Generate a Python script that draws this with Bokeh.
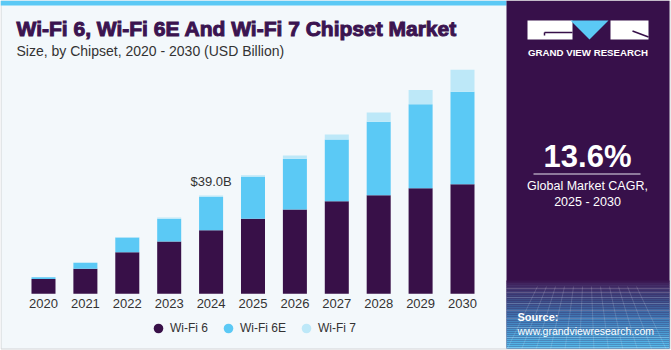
import numpy as np
from bokeh.plotting import figure
from bokeh.models import Range1d, ColumnDataSource, Legend, LegendItem
from bokeh.core.properties import value
from bokeh.embed import file_html
from bokeh.resources import INLINE

# ---------------- data ----------------
years = [2020, 2021, 2022, 2023, 2024, 2025, 2026, 2027, 2028, 2029, 2030]
year_labels = [str(y) for y in years]
wifi6 = [5.9, 9.9, 16.5, 20.7, 25.2, 29.8, 33.4, 36.7, 39.1, 41.9, 43.5]
wifi6e = [0.7, 2.4, 5.8, 9.1, 13.2, 16.5, 20.2, 24.5, 29.2, 33.3, 36.7]
wifi7 = [0.0, 0.1, 0.2, 0.5, 0.6, 0.7, 1.3, 2.0, 3.6, 5.7, 8.7]
series = ["Wi-Fi 6", "Wi-Fi 6E", "Wi-Fi 7"]
colors = ["#381048", "#5bc9f5", "#bde8f8"]
annot_year = [2024]
annot_value = [39.0]
annot_text = ["$39.0B"]

title = "Wi-Fi 6, Wi-Fi 6E And Wi-Fi 7 Chipset Market"
subtitle = "Size, by Chipset, 2020 - 2030 (USD Billion)"
cagr = "13.6%"
cagr_lines = ["Global Market CAGR,", "2025 - 2030"]

FONT = "Liberation Sans"
W, H = 671, 350

p = figure(width=W, height=H, output_backend="svg", toolbar_location=None,
           x_range=Range1d(2018.974, 2034.988), y_range=Range1d(-22.5, 116.37),
           x_axis_location=None, y_axis_location=None, min_border=0,
           outline_line_color=None, background_fill_color="white",
           border_fill_color="white")
p.grid.visible = False
p.extra_x_ranges = {"px": Range1d(0, W)}
p.extra_y_ranges = {"px": Range1d(H, 0)}
PX = dict(x_range_name="px", y_range_name="px")

# ---------------- card background ----------------
p.quad(left=[0.5], right=[669.5], top=[0.5], bottom=[348.5], fill_color="#f3f8fb",
       line_color="#d2d4d6", line_width=1, **PX)
p.quad(left=[0], right=[506], top=[0], bottom=[5], fill_color="#5bc9f5",
       line_color=None, **PX)
# right panel
p.quad(left=[506], right=[669], top=[0], bottom=[348], fill_color="#37104a",
       line_color=None, **PX)
stops_y = [280, 284, 300, 320, 348]
stops_c = [(0x37, 0x10, 0x4a), (0x45, 0x2c, 0x66), (0x3d, 0x50, 0x8a),
           (0x42, 0x82, 0xbe), (0x55, 0xbe, 0xee)]
ys = np.arange(280, 348, 2)
gl, gr, gt, gb, gc = [], [], [], [], []
for yv in ys:
    c = [int(np.interp(yv + 1, stops_y, [s[i] for s in stops_c])) for i in range(3)]
    gl.append(506); gr.append(669); gt.append(yv); gb.append(yv + 2)
    gc.append("#%02x%02x%02x" % tuple(c))
p.quad(left=gl, right=gr, top=gt, bottom=gb, fill_color=gc, line_color=None, **PX)
# mesh
hy = [288, 292, 297, 303, 310, 318, 327, 337, 347]
p.segment(x0=[506] * len(hy), y0=hy, x1=[669] * len(hy), y1=hy,
          line_color="white", line_alpha=0.18, line_width=1, **PX)
vx_top = np.arange(510, 669, 9)
vx_bot = 587 + (vx_top - 587) * 1.6
keep = (vx_bot > 506) & (vx_bot < 669)
p.segment(x0=list(vx_top[keep]), y0=[286] * int(keep.sum()), x1=list(vx_bot[keep]),
          y1=[348] * int(keep.sum()), line_color="white", line_alpha=0.15, line_width=1, **PX)

# logo
p.quad(left=[527, 610], right=[572, 648], top=[20, 20], bottom=[39, 39],
       fill_color="white", line_color=None, **PX)
p.patch(x=[570, 608, 589], y=[20, 20, 39], fill_color="#5bc9f5", line_color=None, **PX)
p.segment(x0=[544, 544, 632], y0=[32, 32, 30.5], x1=[572, 544, 648], y1=[32, 35, 36.5],
          line_color="#37104a", line_width=1.5, **PX)


def txt(x, y, s, size, color, bold=False, align="left", baseline="middle", font=FONT, **kw):
    return p.text(x=[x], y=[y], text=[s], text_font=value(font), text_font_size=f"{size}px",
                  text_font_style="bold" if bold else "normal", text_color=color,
                  text_align=align, text_baseline=baseline, **PX, **kw)


txt(587.5, 51.5, "GRAND VIEW RESEARCH", 9.7, "white", bold=True, align="center")
txt(587, 155.5, cagr, 31, "white", bold=True, align="center")
p.segment(x0=[533], y0=[173.5], x1=[640], y1=[173.5], line_color="#e8e4ee", line_width=1, **PX)
txt(587, 185, cagr_lines[0], 12.5, "white", align="center")
txt(587, 201, cagr_lines[1], 12.5, "white", align="center")
txt(517, 316, "Source:", 11, "white", bold=True)
txt(517, 330, "www.grandviewresearch.com", 10.5, "white")

# titles
txt(16, 28, title, 21, "#3b1450", bold=True, text_outline_color="#3b1450")
txt(16, 50, subtitle, 14, "#333333")

# ---------------- bars ----------------
src = ColumnDataSource(dict(year=years, w6=wifi6, w6e=wifi6e, w7=wifi7))
p.vbar_stack(["w6", "w6e", "w7"], x="year", width=0.573, source=src,
             fill_color=colors, line_color=None)

# year labels (category axis)
p.text(x=years, y=[0] * len(years), text=year_labels, text_font=value(FONT),
       text_font_size="13px", text_color="#333333", text_align="center",
       text_baseline="middle", y_offset=10)
# annotation
p.text(x=annot_year, y=annot_value, text=annot_text, text_font=value(FONT),
       text_font_size="13px", text_color="#333333", text_align="center",
       text_baseline="middle", y_offset=-14)

# legend (renderers hold a single non-drawn point so that their glyphs show in the legend)
items = []
for s, c in zip(series, colors):
    r = p.scatter(x=[np.nan], y=[np.nan], marker="circle", size=10, fill_color=c,
                  line_color=None)
    items.append(LegendItem(label=s, renderers=[r]))
legend = Legend(items=items, orientation="horizontal", location=(146, 10),
                glyph_width=24, glyph_height=24, label_height=24, label_standoff=0,
                spacing=8, padding=0, margin=0, border_line_color=None,
                background_fill_alpha=0, label_text_font=FONT,
                label_text_font_size="12px", label_text_color="#333333")
p.add_layout(legend)

open("out.html", "w").write(file_html(p, INLINE))
